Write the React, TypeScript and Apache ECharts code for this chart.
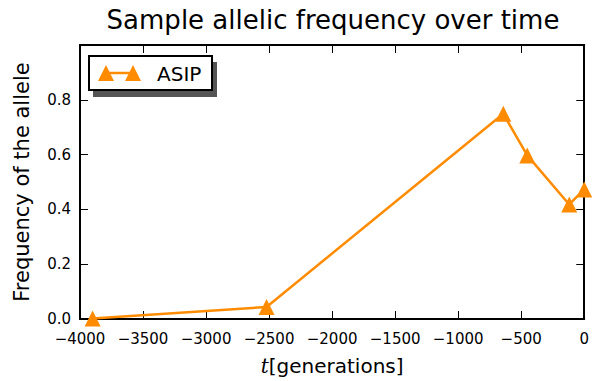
import React, { useEffect, useRef } from "react";
import * as echarts from "echarts";

const generations = [-3900, -2520, -642, -452, -119, 0];
const asipFreq = [0.002, 0.044, 0.749, 0.597, 0.418, 0.473];
const seriesName = "ASIP";
const titleText = "Sample allelic frequency over time";
const yLabel = "Frequency of the allele";

const FONT = "DejaVu Sans";
const ORANGE = "#FF8C00";

export default function App() {
  const ref = useRef<HTMLDivElement>(null);
  useEffect(() => {
    if (!ref.current) return;
    const chart = echarts.init(ref.current, null, { renderer: "svg" });
    const data = generations.map((g, i) => [g, asipFreq[i]]);
    const axisCommon = {
      axisLine: { show: true, onZero: false, lineStyle: { color: "#000", width: 2 } },
      axisTick: { show: true, inside: true, length: 8, lineStyle: { color: "#000", width: 1 } },
      splitLine: { show: false },
    };
    chart.setOption({
      animation: false,
      backgroundColor: "#fff",
      textStyle: { fontFamily: FONT },
      title: {
        text: titleText,
        left: 328,
        top: 2,
        textAlign: "center",
        textStyle: { fontFamily: FONT, fontSize: 26, fontWeight: "normal", color: "#000" },
      },
      grid: { left: 80, right: 7, top: 45, bottom: 59, containLabel: false },
      xAxis: [
        {
          type: "value",
          min: -4000,
          max: 0,
          interval: 500,
          position: "bottom",
          ...axisCommon,
          axisLabel: {
            color: "#000",
            fontSize: 15,
            fontFamily: FONT,
            margin: 12,
            formatter: (v: number) => String(v).replace("-", "\u2212"),
          },
          name: "{it|t}[generations]",
          nameLocation: "middle",
          nameGap: 37,
          nameTextStyle: {
            color: "#000",
            fontSize: 20,
            fontFamily: FONT,
            rich: {
              it: { fontStyle: "italic", fontFamily: "DejaVu Serif", fontSize: 20, color: "#000" },
            },
          },
        },
        {
          type: "value",
          min: -4000,
          max: 0,
          interval: 500,
          position: "top",
          ...axisCommon,
          axisLabel: { show: false },
        },
      ],
      yAxis: [
        {
          type: "value",
          min: 0,
          max: 1.0,
          interval: 0.2,
          position: "left",
          ...axisCommon,
          axisLabel: {
            color: "#000",
            fontSize: 15,
            fontFamily: FONT,
            margin: 9,
            formatter: (v: number) => (v >= 0.99 ? "" : v.toFixed(1)),
          },
          name: yLabel,
          nameLocation: "middle",
          nameGap: 48,
          nameTextStyle: { color: "#000", fontSize: 21, fontFamily: FONT },
        },
        {
          type: "value",
          min: 0,
          max: 1.0,
          interval: 0.2,
          position: "right",
          ...axisCommon,
          axisLabel: { show: false },
        },
      ],
      series: [
        {
          name: seriesName,
          type: "line",
          data,
          xAxisIndex: 0,
          yAxisIndex: 0,
          color: ORANGE,
          symbol: "triangle",
          symbolSize: 16,
          showAllSymbol: true,
          lineStyle: { color: ORANGE, width: 2.5 },
          itemStyle: { color: ORANGE },
          clip: true,
          z: 5,
        },
      ],
      graphic: [
        { type: "rect", shape: { x: 93, y: 62, width: 124, height: 35 }, style: { fill: "#555" }, z: 10 },
        {
          type: "rect",
          shape: { x: 89, y: 56, width: 123, height: 34 },
          style: { fill: "#fff", stroke: "#000", lineWidth: 2 },
          z: 11,
        },
        { type: "line", shape: { x1: 106, y1: 73, x2: 133, y2: 73 }, style: { stroke: ORANGE, lineWidth: 2.5 }, z: 12 },
        { type: "polygon", shape: { points: [[106, 65], [98, 81], [114, 81]] }, style: { fill: ORANGE }, z: 12 },
        { type: "polygon", shape: { points: [[133, 65], [125, 81], [141, 81]] }, style: { fill: ORANGE }, z: 12 },
        {
          type: "text",
          x: 157,
          y: 74,
          style: { text: seriesName, fontSize: 20, fontFamily: FONT, fill: "#000", verticalAlign: "middle" },
          z: 12,
        },
      ],
    });
    return () => chart.dispose();
  }, []);
  return <div ref={ref} style={{ width: 592, height: 381, position: "absolute", left: 0, top: 0 }} />;
}
